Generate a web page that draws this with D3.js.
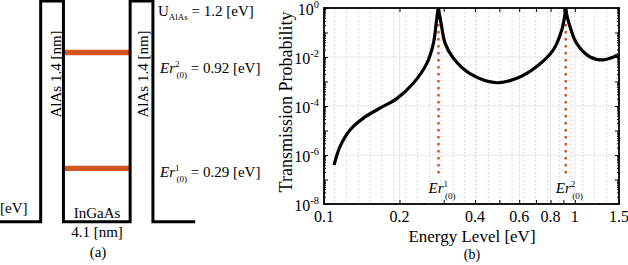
<!DOCTYPE html>
<html>
<head>
<meta charset="utf-8">
<script src="https://cdn.jsdelivr.net/npm/d3@7"></script>
<style>
    body { margin: 0; background: #fff; }
    svg { display: block; font-family: "Liberation Serif", "Times New Roman", Times, serif; }
</style>
</head>
<body>
<svg id="chart" width="628" height="265"></svg>
<script>
// (a) structure: layer boundaries [nm] and energies [eV]
const layerEdges = [0, 2.5, 3.9, 8.0, 9.4, 12.0];
const barrierHeight = 1.2;
const resonances = [0.29, 0.92];

// (b) transmission curve
const energy = [0.1097, 0.1158, 0.127, 0.1435, 0.167, 0.195, 0.227, 0.257, 0.273, 0.281, 0.2835, 0.2857,
    0.2885, 0.293, 0.304, 0.328, 0.382, 0.489, 0.587, 0.705, 0.821, 0.887, 0.912, 0.92, 0.928,
    0.957, 1.017, 1.15, 1.30, 1.42, 1.5];
const transmission = [3.9e-7, 2.2e-6, 1.05e-5, 3.2e-5, 8.1e-5, 2.0e-4, 8.5e-4, 5.5e-3, 3.6e-2, 0.32, 0.62, 1,
    0.55, 0.24, 3.6e-2, 8.9e-3, 2.1e-3, 8.9e-4, 1.35e-3, 4.1e-3, 1.95e-2, 0.126, 0.5, 1, 0.55,
    0.17, 3.6e-2, 1.0e-2, 7.6e-3, 9.8e-3, 1.26e-2];
const peakEnergy = [0.286, 0.92];
const peakLabels = ["1", "2"];

const xTickLabels = [0.1, 0.2, 0.4, 0.6, 0.8, 1, 1.5];
const xTicksMinor = [0.3, 0.5, 0.7, 0.9];
const yTickExponents = [0, -2, -4, -6, -8];
const yDecades = [0, -1, -2, -3, -4, -5, -6, -7, -8];
const xDotGrid = [0.11, 0.123, 0.137, 0.153, 0.17, 0.19, 0.212, 0.236, 0.263, 0.293, 0.327, 0.364,
    0.406, 0.452, 0.504, 0.562, 0.626, 0.698, 0.778, 0.867, 0.966, 1.077, 1.2, 1.338];

const orange = "#d4561f";
const svg = d3.select("#chart");

// ---------- panel (a) ----------
const nm = d3.scaleLinear().domain([0, 12]).range([0, 195.2]);
const eV = d3.scaleLinear().domain([0, barrierHeight]).range([221.7, 1]);

// trace the band edge: lead, barrier, well, barrier, lead
const profile = [];
layerEdges.forEach((d, i) => {
    if (i === 0 || i === 5) profile.push([d, 0]);
    else if (i === 1 || i === 3) profile.push([d, 0], [d, barrierHeight]);
    else profile.push([d, barrierHeight], [d, 0]);
});

const a = svg.append("g");

resonances.forEach(r => {
    a.append("line")
        .attr("x1", nm(layerEdges[2])).attr("x2", nm(layerEdges[3]))
        .attr("y1", eV(r)).attr("y2", eV(r))
        .attr("stroke", orange).attr("stroke-width", 5.3);
});

a.append("path")
    .attr("d", d3.line().x(d => nm(d[0])).y(d => eV(d[1]))(profile))
    .attr("fill", "none").attr("stroke", "#000").attr("stroke-width", 3)
    .attr("stroke-linejoin", "miter");

const rot = (px, py, txt) => a.append("text")
    .attr("transform", `translate(${px},${py}) rotate(-90)`)
    .attr("text-anchor", "middle").attr("font-size", 15).text(txt);
rot(61, 74, "AlAs 1.4 [nm]");
rot(147.5, 74, "AlAs 1.4 [nm]");

a.append("text").attr("x", 0).attr("y", 213).attr("font-size", 15).text("[eV]");
a.append("text").attr("x", 97).attr("y", 218).attr("text-anchor", "middle").attr("font-size", 15).text("InGaAs");
a.append("text").attr("x", 97).attr("y", 237).attr("text-anchor", "middle").attr("font-size", 15).text("4.1 [nm]");
a.append("text").attr("x", 98).attr("y", 257).attr("text-anchor", "middle").attr("font-size", 15).text("(a)");

const u = a.append("text").attr("x", 158).attr("y", 16).attr("font-size", 15);
u.append("tspan").text("U");
u.append("tspan").attr("font-size", 9).attr("dy", 4).text("AlAs");
u.append("tspan").attr("dy", -4).text(` = ${barrierHeight} [eV]`);

const erText = (py, sup, val) => {
    const t = a.append("text").attr("x", 160).attr("y", py).attr("font-size", 15);
    t.append("tspan").attr("font-style", "italic").text("Er");
    t.append("tspan").attr("font-size", 9).attr("dy", -6).text(sup);
    t.append("tspan").attr("font-size", 9).attr("dx", -3).attr("dy", 11).text("(0)");
    t.append("tspan").attr("dy", -5).text(` = ${val} [eV]`);
};
erText(72.7, "2", "0.92");
erText(176.7, "1", "0.29");

// ---------- panel (b) ----------
const pL = 324, pT = 8, pR = 619, pB = 204;
const x = d3.scaleLog().domain([0.1, 1.5]).range([pL, pR]);
const y = d3.scaleLog().domain([1e-8, 1]).range([pB, pT]);

const b = svg.append("g");

b.append("clipPath").attr("id", "plotclip")
    .append("rect").attr("x", pL).attr("y", pT).attr("width", pR - pL).attr("height", pB - pT);

// grid
b.append("g").selectAll("line").data(xDotGrid).join("line")
    .attr("x1", d => x(d)).attr("x2", d => x(d)).attr("y1", pT).attr("y2", pB)
    .attr("stroke", "#cfcfcf").attr("stroke-width", 1).attr("stroke-dasharray", "1.5,2.5");
b.append("g").selectAll("line").data(yTickExponents).join("line")
    .attr("x1", pL).attr("x2", pR).attr("y1", d => y(10 ** d)).attr("y2", d => y(10 ** d))
    .attr("stroke", "#e6e6e6").attr("stroke-width", 1);
b.append("g").selectAll("line").data(xTickLabels).join("line")
    .attr("x1", d => x(d)).attr("x2", d => x(d)).attr("y1", pT).attr("y2", pB)
    .attr("stroke", "#e6e6e6").attr("stroke-width", 1);

// resonance markers
b.append("g").selectAll("line").data(peakEnergy).join("line")
    .attr("x1", d => x(d)).attr("x2", d => x(d)).attr("y1", pT + 2).attr("y2", 174)
    .attr("stroke", orange).attr("stroke-width", 2.5).attr("stroke-dasharray", "2.5,4.5");

// curve
const pts = energy.map((e, i) => [e, transmission[i]]);
b.append("path")
    .attr("clip-path", "url(#plotclip)")
    .attr("d", d3.line().x(d => x(d[0])).y(d => y(d[1])).curve(d3.curveCatmullRom.alpha(0.5))(pts))
    .attr("fill", "none").attr("stroke", "#000").attr("stroke-width", 3.2).attr("stroke-linejoin", "round");

// axes ticks (inward, mirrored)
const allX = xTickLabels.concat(xTicksMinor);
const minorY = [];
yDecades.slice(1).forEach(e => [2, 3, 4, 5, 6, 7, 8, 9].forEach(m => minorY.push(m * 10 ** e)));

b.append("g").attr("transform", `translate(0,${pB})`)
    .call(d3.axisBottom(x).tickValues(allX).tickSize(-4).tickFormat(""));
b.append("g").attr("transform", `translate(0,${pT})`)
    .call(d3.axisTop(x).tickValues(allX).tickSize(-4).tickFormat(""));
b.append("g").attr("transform", `translate(${pL},0)`)
    .call(d3.axisLeft(y).tickValues(yDecades.map(e => 10 ** e)).tickSize(-4).tickFormat(""));
b.append("g").attr("transform", `translate(${pR},0)`)
    .call(d3.axisRight(y).tickValues(yDecades.map(e => 10 ** e)).tickSize(-4).tickFormat(""));
b.append("g").attr("transform", `translate(${pL},0)`)
    .call(d3.axisLeft(y).tickValues(minorY).tickSize(-2).tickFormat(""));
b.append("g").attr("transform", `translate(${pR},0)`)
    .call(d3.axisRight(y).tickValues(minorY).tickSize(-2).tickFormat(""));
b.selectAll(".domain").remove();
b.selectAll(".tick line").attr("stroke", "#000").attr("stroke-width", 1);

b.append("rect").attr("x", pL).attr("y", pT).attr("width", pR - pL).attr("height", pB - pT)
    .attr("fill", "none").attr("stroke", "#000").attr("stroke-width", 1.8);

// tick labels
b.append("g").selectAll("text").data(xTickLabels).join("text")
    .attr("x", d => x(d)).attr("y", 222).attr("text-anchor", "middle").attr("font-size", 16)
    .text(d => d);

const yl = b.append("g").selectAll("text").data(yTickExponents).join("text")
    .attr("x", 319).attr("y", d => y(10 ** d) + 7).attr("text-anchor", "end").attr("font-size", 16);
yl.append("tspan").text("10");
yl.append("tspan").attr("font-size", 10.5).attr("dy", -7).text(d => d);

// resonance labels
peakEnergy.forEach((d, i) => {
    const t = b.append("text").attr("x", x(d) - 10).attr("y", 193).attr("font-size", 15);
    t.append("tspan").attr("font-style", "italic").text("Er");
    t.append("tspan").attr("font-size", 9).attr("dy", -6).text(peakLabels[i]);
    t.append("tspan").attr("font-size", 9).attr("dx", -3).attr("dy", 12).text("(0)");
});

// axis titles
b.append("text").attr("x", 472).attr("y", 242).attr("text-anchor", "middle").attr("font-size", 17)
    .text("Energy Level [eV]");
b.append("text").attr("x", 472).attr("y", 259).attr("text-anchor", "middle").attr("font-size", 14)
    .text("(b)");
b.append("text").attr("transform", "translate(292,102) rotate(-90)").attr("text-anchor", "middle")
    .attr("font-size", 18).text("Transmission Probability");
</script>
</body>
</html>
